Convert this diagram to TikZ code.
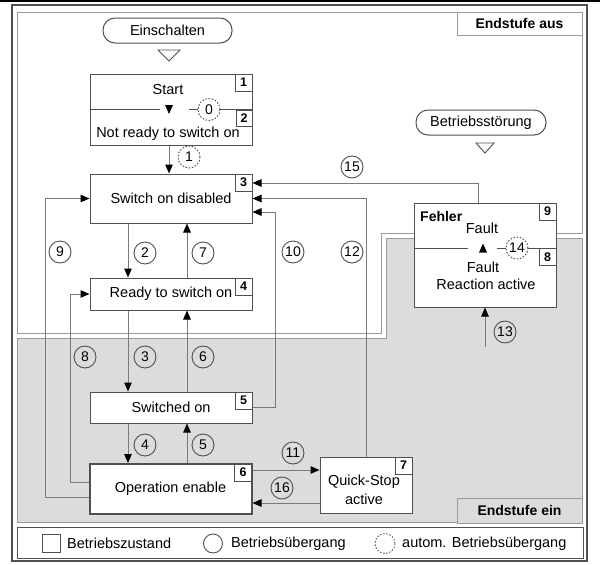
\documentclass[tikz,border=0pt]{standalone}
\usepackage{fontspec}
\setmainfont{Liberation Sans}
\usetikzlibrary{calc,arrows.meta}

\definecolor{lineC}{HTML}{505050}
\definecolor{connC}{HTML}{7A7A7A}
\definecolor{zoneC}{HTML}{DCDCDC}
\definecolor{zoneLine}{HTML}{9A9A9A}

\tikzset{
  txt/.style={font=\fontsize{14.5}{16}\selectfont, inner sep=0pt, align=center},
  state/.style={draw=lineC, line width=1pt, fill=white, inner sep=0pt, txt},
  numbox/.style={draw=lineC, line width=0.9pt, fill=white, minimum size=17pt, inner sep=0pt,
    font=\bfseries\fontsize{12.5}{14}\selectfont, anchor=north east},
  trans/.style={circle, draw=lineC, line width=0.9pt, minimum size=22pt, inner sep=0pt,
    font=\fontsize{14}{15}\selectfont},
  autotrans/.style={trans, dash pattern=on 1.6pt off 1.6pt},
  conn/.style={draw=connC, line width=1pt},
  arr/.style={conn, -{Triangle[length=9pt,width=7.5pt,color=black]}},
  pill/.style={draw=lineC, line width=1pt, rounded corners=12pt, minimum height=25pt, inner sep=0pt, txt},
  zonelabel/.style={font=\bfseries\fontsize{14}{16}\selectfont, inner sep=0pt},
  divider/.style={draw=lineC, line width=0.9pt}
}

\begin{document}
\begin{tikzpicture}[x=1pt,y=-1pt]
\useasboundingbox (0,0) rectangle (600,565);
\fill[white] (0,0) rectangle (600,565);

% top rule
\draw[black, line width=2pt] (0,1) -- (600,1);

% zones: power stage off (white) and on (grey)
\draw[zoneLine, line width=1pt] (17,12) -- (582,12) -- (582,233) -- (381,233) -- (381,333) -- (17,333) -- cycle;
\filldraw[fill=zoneC, draw=zoneLine, line width=1pt] (17,338) -- (386,338) -- (386,238) -- (582,238) -- (582,522) -- (17,522) -- cycle;
\node[draw=zoneLine, line width=1pt, fill=white, minimum width=125pt, minimum height=23pt, inner sep=0pt] (lblaus) at (519.5,23.5) {};
\node[zonelabel] (txtaus) at (lblaus) {Endstufe aus};
\node[draw=zoneLine, line width=1pt, fill=zoneC, minimum width=125pt, minimum height=25pt, inner sep=0pt] (lblein) at (519.5,510.5) {};
\node[zonelabel] (txtein) at (lblein) {Endstufe ein};

% outer frame and legend frame
\draw[lineC, line width=1.3pt] (12,5) rectangle (587,561);
\draw[lineC, line width=1pt] (17,527) rectangle (583,558);

% start events
\node[pill, minimum width=129pt] (ein) at (167.5,30.5) {Einschalten};
\draw[lineC, line width=0.9pt] (158,50) -- (180,50) -- (169,61) -- cycle;
\node[pill, minimum width=130pt] (stoer) at (481,122.5) {Betriebsstörung};
\draw[lineC, line width=0.9pt] (476,143) -- (494,143) -- (485,153) -- cycle;

% lanes for vertical transitions
\coordinate (laneL) at (128,0);
\coordinate (laneR) at (187,0);
\coordinate (laneS) at (169,0);
\coordinate (lane9) at (45,0);
\coordinate (lane8) at (70,0);
\coordinate (lane10) at (275,0);

% states
\node[state, minimum width=162pt, minimum height=71pt] (s12) at (171,109.5) {};
\node[state, minimum width=162pt, minimum height=49pt] (b3) at (171,198.5) {Switch on disabled};
\node[state, minimum width=162pt, minimum height=32pt] (b4) at (171,294) {Ready to switch on};
\node[state, minimum width=162pt, minimum height=31pt] (b5) at (171,407.5) {Switched on};
\node[state, minimum width=92pt, minimum height=56pt] (b7) at (366,485) {};
\node[state, minimum width=142pt, minimum height=104pt] (bF) at (485,255) {};

% transitions
\draw[arr] (s12.south -| laneS) -- (b3.north -| laneS);
\draw[arr] (b3.south -| laneL) -- (b4.north -| laneL);
\draw[arr] (b4.north -| laneR) -- (b3.south -| laneR);
\draw[arr] (b4.south -| laneL) -- (b5.north -| laneL);
\draw[arr] (b5.north -| laneR) -- (b4.south -| laneR);
\coordinate (b3e15) at ($(b3.east)+(0,-15.5)$);
\coordinate (b3e10) at ($(b3.east)+(0,13.5)$);
\coordinate (f15) at ($(bF.north)+(-7,0)$);
\draw[arr] (f15) |- (b3e15);
\draw[arr] (b7.north) |- (b3.east);
\draw[arr] (b5.east) -| (b3e10 -| lane10) -- (b3e10);
\coordinate (m13) at (485,347);
\draw[arr] (m13) -- (bF.south);

\node[state, line width=2pt, minimum width=162pt, minimum height=50pt] (b6) at (170.5,489) {Operation enable};
\draw[arr] (b5.south -| laneL) -- (b6.north -| laneL);
\draw[arr] (b6.north -| laneR) -- (b5.south -| laneR);
\coordinate (o9) at ($(b6.west)+(0,8)$);
\coordinate (o8) at ($(b6.west)+(0,-7)$);
\draw[arr] (o9) -| (b3.west -| lane9) -- (b3.west);
\draw[arr] (o8) -| (b4.west -| lane8) -- (b4.west);
\coordinate (o11) at ($(b6.east)+(0,-19)$);
\coordinate (o16) at ($(b7.west)+(0,18)$);
\draw[arr] (o11) -- (o11 -| b7.west);
\draw[arr] (o16) -- (o16 -| b6.east);

% state texts
\node[txt] (tstart) at (168,90) {Start};
\node[txt] (tnr) at (168,133.5) {Not ready to switch on};
\node[txt] (tqs1) at (364,482) {Quick-Stop};
\node[txt] (tqs2) at (364,499) {active};
\node[font=\bfseries\fontsize{14}{16}\selectfont, inner sep=0pt, anchor=west] (tfehler) at (420,216) {Fehler};
\node[txt] (tf1) at (482,228) {Fault};
\node[txt] (tf2) at (483,267) {Fault};
\node[txt] (tf3) at (486,284) {Reaction active};

% automatic transitions inside the combined states
\node[autotrans] (c0) at (209,109.5) {0};
\coordinate (d0) at (s12.west);
\draw[divider] (d0) -- (160,109.5);
\fill[black] (165,105) -- (173,105) -- (169,114) -- cycle;
\draw[divider] (189,109.5) -- (c0.west);
\draw[divider] (c0.east) -- (s12.east);
\node[autotrans] (c14) at (517,248) {14};
\coordinate (fdiv) at ($(bF.west)+(0,-7)$);
\draw[divider] (fdiv) -- (468,248);
\fill[black] (479,252.5) -- (487,252.5) -- (483,243.5) -- cycle;
\draw[divider] (497,248) -- (c14.west);
\draw[divider] (c14.east) -- (fdiv -| bF.east);

% state numbers
\node[numbox] (n1) at (s12.north east) {1};
\node[numbox, minimum size=16pt] (n2) at (s12.east) {2};
\node[numbox] (n3) at (b3.north east) {3};
\node[numbox] (n4) at (b4.north east) {4};
\node[numbox] (n5) at (b5.north east) {5};
\node[numbox] (n6) at ($(b6.north east)+(-0.5,0.5)$) {6};
\node[numbox] (n7) at (b7.north east) {7};
\node[numbox] (n9) at (bF.north east) {9};
\node[numbox] (n8) at (fdiv -| bF.east) {8};

% transition labels
\node[autotrans] (c1) at (189,157) {1};
\node[trans] (c2) at (145,253) {2};
\node[trans] (c7) at (203,253) {7};
\node[trans] (c9) at (60,252) {9};
\node[trans] (c10) at (293,252) {10};
\node[trans] (c12) at (352,252) {12};
\node[trans] (c15) at (352,167) {15};
\node[trans] (c3) at (145,357) {3};
\node[trans] (c6) at (203,357) {6};
\node[trans] (c8) at (85,357) {8};
\node[trans] (c4) at (145,445) {4};
\node[trans] (c5) at (203,445) {5};
\node[trans] (c11) at (293,453) {11};
\node[trans] (c16) at (282,488) {16};
\node[trans] (c13) at (505,332) {13};

% legend
\node[draw=lineC, line width=0.9pt, minimum size=18pt, inner sep=0pt] (lsq) at (51,543.5) {};
\node[txt, anchor=west] (lsqt) at (67,543.5) {Betriebszustand};
\node[circle, draw=lineC, line width=0.9pt, minimum size=19pt, inner sep=0pt] (lci) at (213,543.5) {};
\node[txt, anchor=west] (lcit) at (231,543.5) {Betriebsübergang};
\node[circle, draw=lineC, line width=0.8pt, dash pattern=on 1.6pt off 1.6pt, minimum size=20pt, inner sep=0pt] (lau) at (385,543.5) {};
\node[txt, anchor=west] (laut) at (402,543.5) {autom. Betriebsübergang};
\end{tikzpicture}
\end{document}
